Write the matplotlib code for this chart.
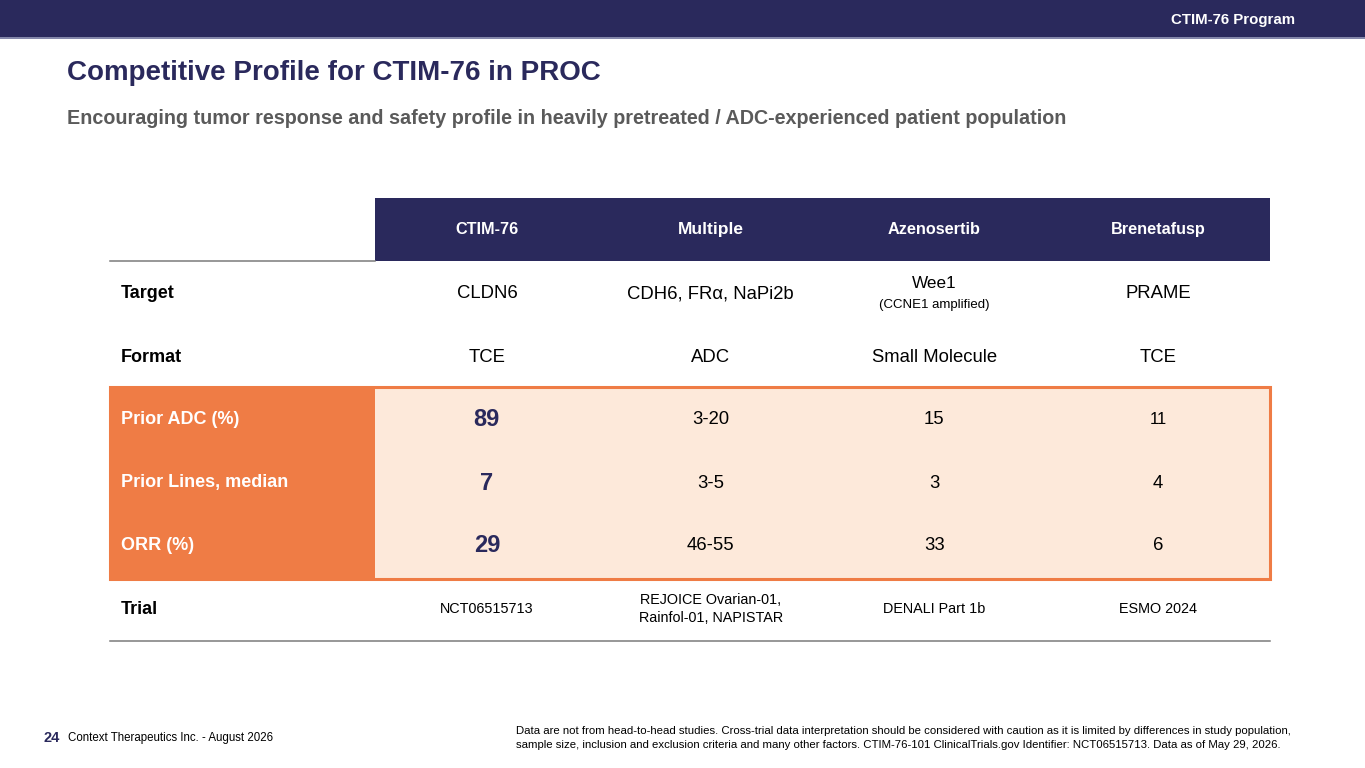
import matplotlib.pyplot as plt
from matplotlib.patches import Rectangle

NAVY = "#2a295c"
ORANGE = "#ef7c45"
PEACH = "#fde9da"
GREY = "#7a7a7a"

title = "Competitive Profile for CTIM-76 in PROC"
subtitle = "Encouraging tumor response and safety profile in heavily pretreated / ADC-experienced patient population"
program = "CTIM-76 Program"

columns = ["CTIM-76", "Multiple", "Azenosertib", "Brenetafusp"]
row_labels = ["Target", "Format", "Prior ADC (%)", "Prior Lines, median", "ORR (%)", "Trial"]
highlight_rows = [2, 3, 4]

target = ["CLDN6", "CDH6, FRα, NaPi2b", "Wee1", "PRAME"]
target_note = ["", "", "(CCNE1 amplified)", ""]
fmt = ["TCE", "ADC", "Small Molecule", "TCE"]
prior_adc = ["89", "3-20", "15", "11"]
prior_lines = ["7", "3-5", "3", "4"]
orr = ["29", "46-55", "33", "6"]
trial = ["NCT06515713", "REJOICE Ovarian-01,\nRainfol-01, NAPISTAR", "DENALI Part 1b", "ESMO 2024"]

page_no = "24"
footer_left = "Context Therapeutics Inc. - August 2026"
footnote = ("Data are not from head-to-head studies. Cross-trial data interpretation should be considered with caution as it is limited by differences in study population,\n"
            "sample size, inclusion and exclusion criteria and many other factors. CTIM-76-101 ClinicalTrials.gov Identifier: NCT06515713. Data as of May 29, 2026.")

body_font = ["Liberation Sans", "DejaVu Sans"]

fig = plt.figure(figsize=(13.65, 7.68), dpi=100)
ax = fig.add_axes([0, 0, 1, 1])
ax.set_xlim(0, 1365)
ax.set_ylim(768, 0)
ax.axis("off")

# top bar
ax.add_patch(Rectangle((0, 0), 1365, 37, color=NAVY, lw=0))
ax.plot([0, 1365], [37.5, 37.5], color="#6c7099", lw=1.2)
ax.text(1295, 20, program, color="white", fontsize=10.8, fontweight="bold",
        family=body_font, ha="right", va="center")

# titles
ax.text(67, 73, title, color=NAVY, fontsize=20, fontweight="bold",
        family=body_font, ha="left", va="center")
ax.text(67, 119, subtitle, color="#5a5a5a", fontsize=14.2, fontweight="bold",
        family=body_font, ha="left", va="center")

# table geometry
left, right = 110, 1270
lab_w = 265
col_w = (right - left - lab_w) / len(columns)
head_top, head_bot = 198, 261
row_h = 63
row_y = [head_bot + 33 + row_h * i for i in range(len(row_labels))]
col_x = [left + lab_w + col_w * (j + 0.5) for j in range(len(columns))]

# header
ax.add_patch(Rectangle((left + lab_w, head_top), right - left - lab_w, head_bot - head_top,
                       color=NAVY, lw=0))
ax.plot([left, left + lab_w], [head_bot, head_bot], color=GREY, lw=1.1)
for j, c in enumerate(columns):
    fs = 12.5 if c == "Multiple" else 11.7
    ax.text(col_x[j], (head_top + head_bot) / 2, c, color="white", fontsize=fs,
            fontweight="bold", family=body_font, ha="center", va="center")

# highlighted block
hl_top = row_y[highlight_rows[0]] - 33
hl_bot = row_y[highlight_rows[-1]] + 33
ax.add_patch(Rectangle((left, hl_top), right - left, hl_bot - hl_top,
                       facecolor=PEACH, edgecolor=ORANGE, lw=2.2))
ax.add_patch(Rectangle((left, hl_top), lab_w, hl_bot - hl_top, color=ORANGE, lw=0))

# bottom rule
ax.plot([left, right], [641, 641], color=GREY, lw=1.1)

# row labels
for i, lab in enumerate(row_labels):
    col = "white" if i in highlight_rows else "black"
    ax.text(121, row_y[i], lab, color=col, fontsize=13, fontweight="bold",
            family=body_font, ha="left", va="center")

# cells
rows = [target, fmt, prior_adc, prior_lines, orr, trial]
for i, vals in enumerate(rows):
    for j, v in enumerate(vals):
        y = row_y[i]
        if i == 0 and target_note[j]:
            ax.text(col_x[j], y - 10, v, fontsize=12.3, family=body_font,
                    ha="center", va="center", color="black")
            ax.text(col_x[j], y + 11, target_note[j], fontsize=9.5, family=body_font,
                    ha="center", va="center", color="black")
        elif i in highlight_rows and j == 0:
            ax.text(col_x[j], y, v, fontsize=17, fontweight="bold", family=body_font,
                    ha="center", va="center", color=NAVY)
        elif i == 5:
            ax.text(col_x[j], y, v, fontsize=10.4, family=body_font, ha="center",
                    va="center", color="black", linespacing=1.35)
        else:
            fs = 12 if v == "11" else 13.3
            ax.text(col_x[j], y, v, fontsize=fs, family=body_font, ha="center",
                    va="center", color="black")

# footer
ax.text(44, 738, page_no, color=NAVY, fontsize=10.5, fontweight="bold",
        family=body_font, ha="left", va="center")
ax.text(68, 738, footer_left, color="black", fontsize=8.3, family=body_font,
        ha="left", va="center")
ax.text(516, 738, footnote, color="black", fontsize=8.2, family=body_font,
        ha="left", va="center", linespacing=1.45)

fig.savefig("out.png", dpi=100)
